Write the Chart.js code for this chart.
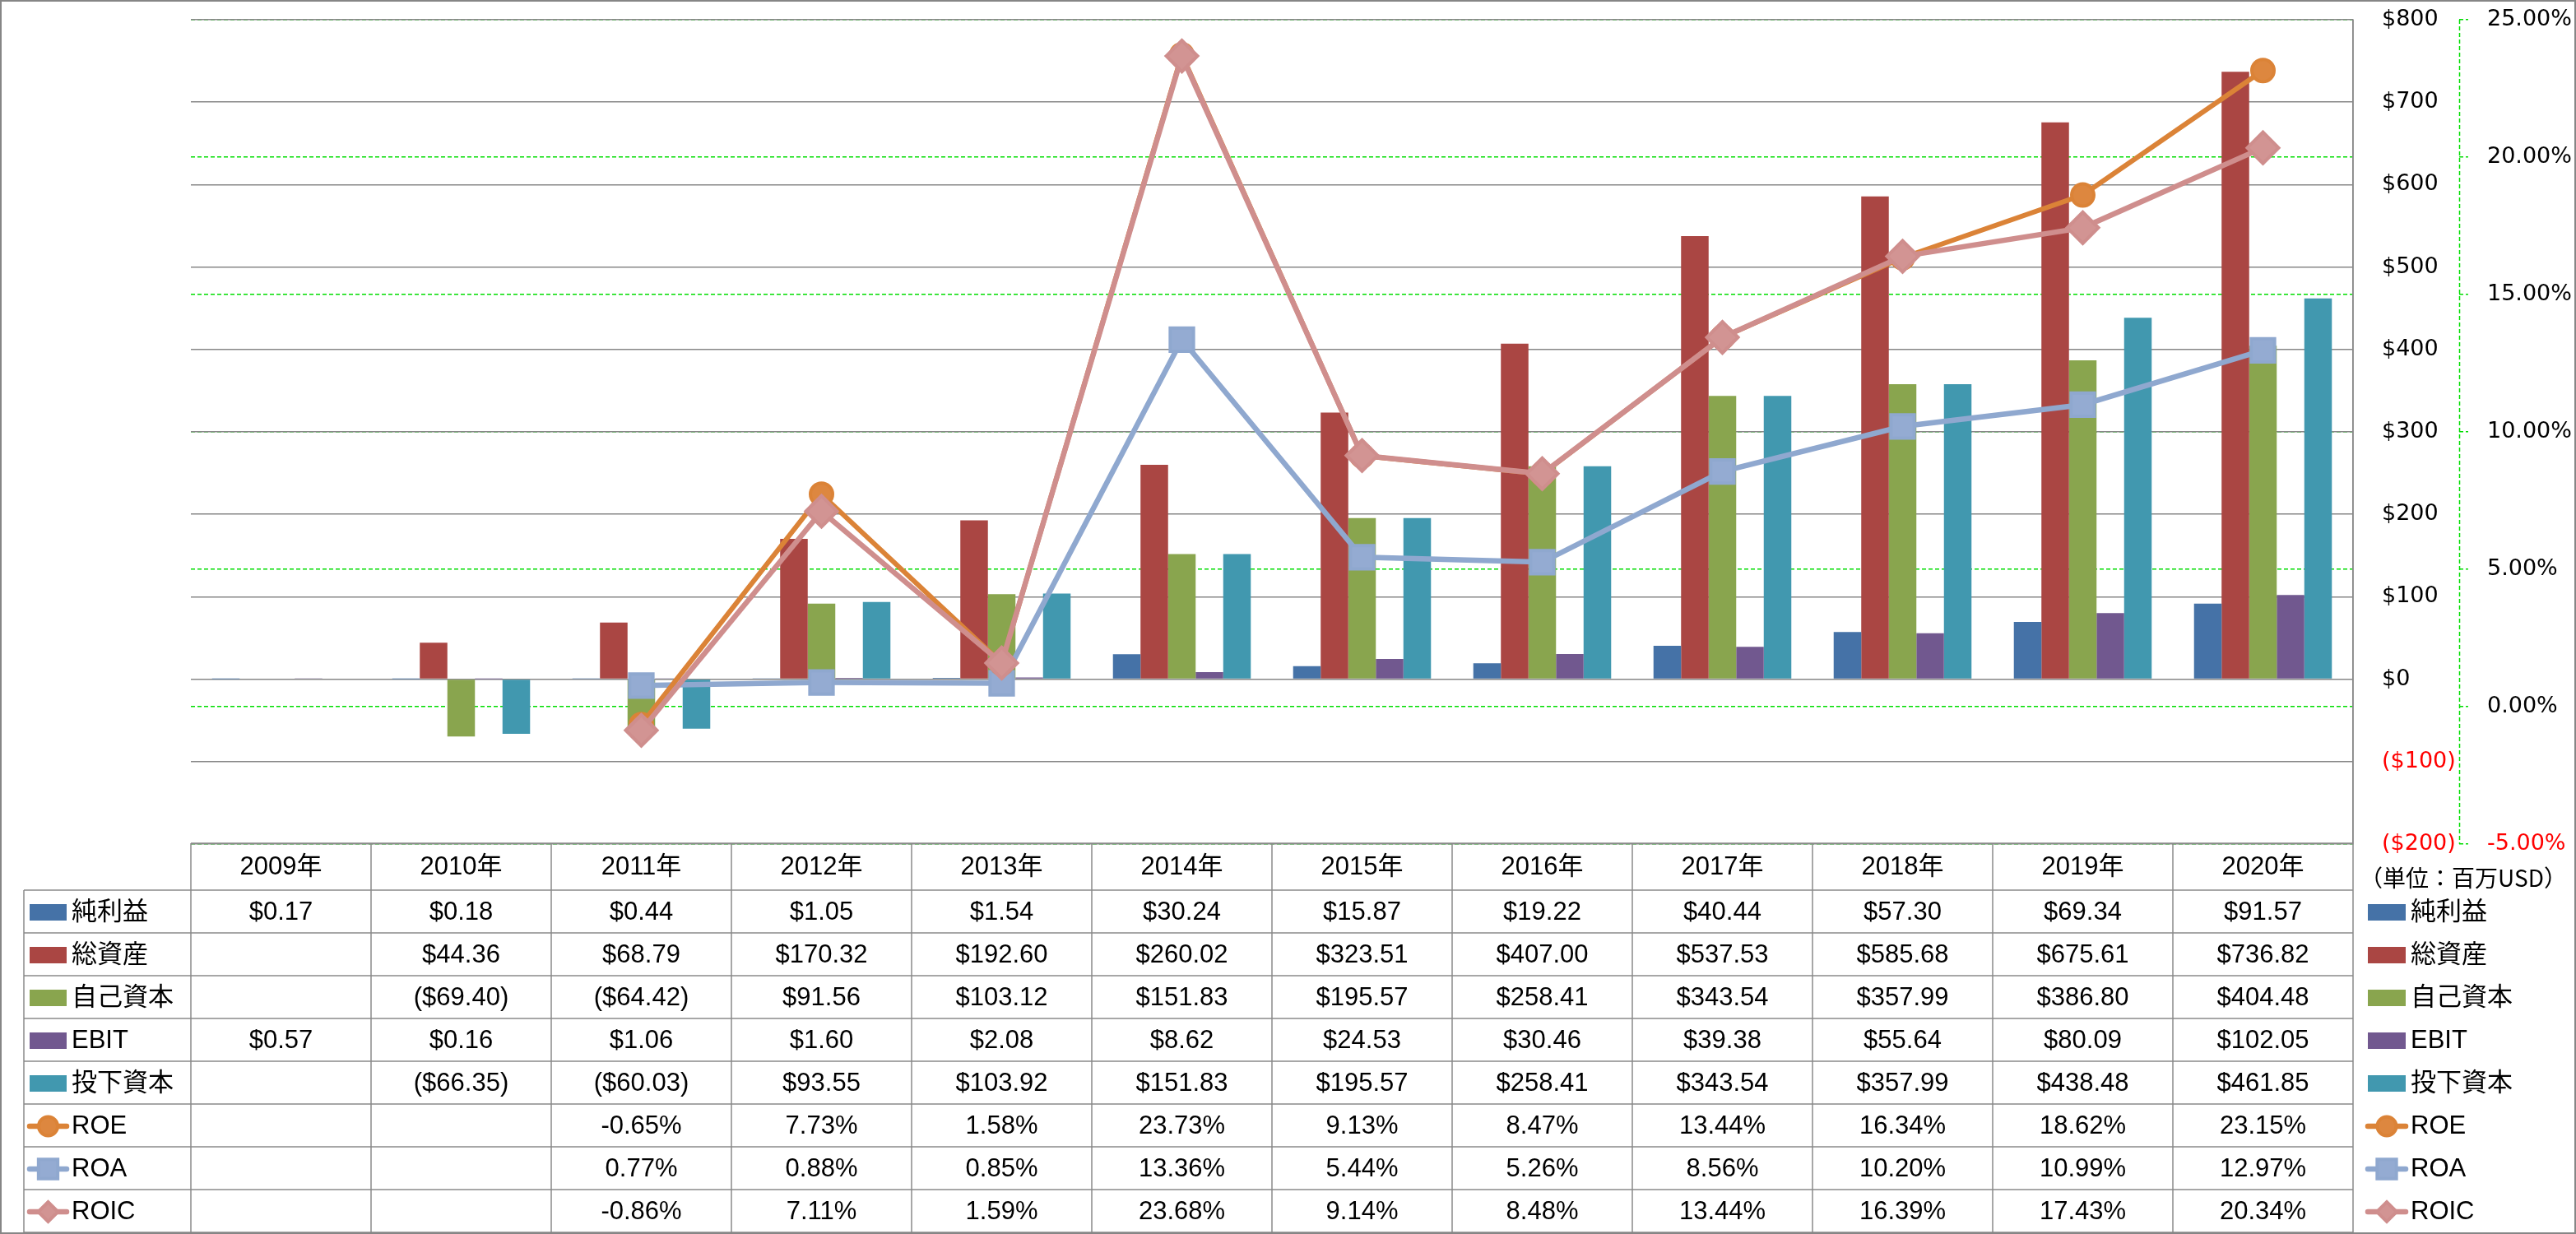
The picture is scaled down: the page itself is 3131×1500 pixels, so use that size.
<!DOCTYPE html>
<html lang="ja">
<head>
<meta charset="utf-8">
<title>純利益・総資産・自己資本・EBIT・投下資本とROE・ROA・ROIC</title>
<script src="https://cdn.jsdelivr.net/npm/chart.js@4/dist/chart.umd.min.js"></script>
<style>
  html, body { margin: 0; padding: 0; background: #fff; }
  #wrap { width: 3131px; height: 1500px; position: relative; }
</style>
</head>
<body>
<div id="wrap"><canvas id="finChart"></canvas></div>
<script>
// categories
const years = ['2009年', '2010年', '2011年', '2012年', '2013年', '2014年', '2015年', '2016年', '2017年', '2018年', '2019年', '2020年'];

// bar series (百万USD)
const netIncome   = [0.17, 0.18, 0.44, 1.05, 1.54, 30.24, 15.87, 19.22, 40.44, 57.30, 69.34, 91.57];
const totalAssets = [null, 44.36, 68.79, 170.32, 192.60, 260.02, 323.51, 407.00, 537.53, 585.68, 675.61, 736.82];
const equity      = [null, -69.40, -64.42, 91.56, 103.12, 151.83, 195.57, 258.41, 343.54, 357.99, 386.80, 404.48];
const ebit        = [0.57, 0.16, 1.06, 1.60, 2.08, 8.62, 24.53, 30.46, 39.38, 55.64, 80.09, 102.05];
const investedCap = [null, -66.35, -60.03, 93.55, 103.92, 151.83, 195.57, 258.41, 343.54, 357.99, 438.48, 461.85];

// line series (%)
const roe  = [null, null, -0.65, 7.73, 1.58, 23.73, 9.13, 8.47, 13.44, 16.34, 18.62, 23.15];
const roa  = [null, null, 0.77, 0.88, 0.85, 13.36, 5.44, 5.26, 8.56, 10.20, 10.99, 12.97];
const roic = [null, null, -0.86, 7.11, 1.59, 23.68, 9.14, 8.48, 13.44, 16.39, 17.43, 20.34];

// axis ranges / ticks
const usdAxis = { min: -200, max: 800, step: 100 };
const pctAxis = { min: -5, max: 25, step: 5 };
const unitLabel = '（単位：百万USD）';

const COLORS = {
  net: '#4572A7', assets: '#AA4643', equity: '#89A54E', ebit: '#71588F', invested: '#4198AF',
  roe: '#DB8337', roa: '#8FA8CF', roic: '#CF8E8D'
};

const AXIS_FONT = { family: '"DejaVu Sans", sans-serif', size: 27 };
const TABLE_FONT = '31px "Liberation Sans", "Noto Sans CJK JP", sans-serif';

function fmtUsd(v) {
  if (v === null || v === undefined) return '';
  return v < 0 ? '($' + (-v).toFixed(2) + ')' : '$' + v.toFixed(2);
}
function fmtPct(v) {
  if (v === null || v === undefined) return '';
  return v.toFixed(2) + '%';
}

function barSet(label, data, color) {
  return { type: 'bar', label: label, data: data, backgroundColor: color, borderWidth: 0, yAxisID: 'y', order: 10 };
}
function lineSet(label, data, color, fill, style, radius, width, order) {
  return {
    type: 'line', label: label, data: data, yAxisID: 'y1', order: order,
    borderColor: color, backgroundColor: fill, borderWidth: width, tension: 0, fill: false,
    pointStyle: style, pointRadius: radius, pointBorderWidth: 4,
    pointBorderColor: color, pointBackgroundColor: fill
  };
}

const datasets = [
  barSet('純利益', netIncome, COLORS.net),
  barSet('総資産', totalAssets, COLORS.assets),
  barSet('自己資本', equity, COLORS.equity),
  barSet('EBIT', ebit, COLORS.ebit),
  barSet('投下資本', investedCap, COLORS.invested),
  lineSet('ROE', roe, COLORS.roe, '#DD873F', 'circle', 13.5, 6, 2),
  lineSet('ROA', roa, COLORS.roa, '#94ABD2', 'rect', 20, 6.5, 3),
  lineSet('ROIC', roic, COLORS.roic, '#D29493', 'rectRot', 19, 6.5, 1)
];

// rows of the data table under the plot
const tableRows = [
  { label: '純利益', values: netIncome, fmt: fmtUsd, color: COLORS.net },
  { label: '総資産', values: totalAssets, fmt: fmtUsd, color: COLORS.assets },
  { label: '自己資本', values: equity, fmt: fmtUsd, color: COLORS.equity },
  { label: 'EBIT', values: ebit, fmt: fmtUsd, color: COLORS.ebit },
  { label: '投下資本', values: investedCap, fmt: fmtUsd, color: COLORS.invested },
  { label: 'ROE', values: roe, fmt: fmtPct, color: COLORS.roe, fill: '#DD873F', point: 'circle', r: 11.5 },
  { label: 'ROA', values: roa, fmt: fmtPct, color: COLORS.roa, fill: '#94ABD2', point: 'rect', r: 16.5 },
  { label: 'ROIC', values: roic, fmt: fmtPct, color: COLORS.roic, fill: '#D29493', point: 'rectRot', r: 12 }
];

const dataTable = {
  id: 'dataTable',
  afterDraw(chart) {
    const ctx = chart.ctx;
    const xs = chart.scales.x;
    const y1 = chart.scales.y1;
    const step = xs.getPixelForValue(1) - xs.getPixelForValue(0);
    const left = xs.getPixelForValue(0) - step / 2;
    const right = left + step * years.length;
    const top = Math.round(chart.chartArea.bottom) - 1;
    const headH = 57, rowH = 52;
    const legendLeft = 29;
    const bottom = top + headH + rowH * tableRows.length;

    ctx.save();

    // dashed green line of the percent axis
    ctx.strokeStyle = '#00dd00';
    ctx.lineWidth = 1.5;
    ctx.setLineDash([5, 3]);
    ctx.beginPath();
    ctx.moveTo(y1.left + 0.5, y1.top);
    ctx.lineTo(y1.left + 0.5, y1.bottom);
    ctx.stroke();
    ctx.setLineDash([]);

    // table grid
    ctx.strokeStyle = '#8a8a8a';
    ctx.lineWidth = 1.5;
    ctx.beginPath();
    ctx.moveTo(left, top);
    ctx.lineTo(right, top);
    for (let r = 0; r <= tableRows.length; r++) {
      const yy = top + headH + r * rowH;
      ctx.moveTo(legendLeft, yy);
      ctx.lineTo(right, yy);
    }
    for (let c = 0; c <= years.length; c++) {
      const xx = left + c * step;
      ctx.moveTo(xx, top);
      ctx.lineTo(xx, bottom);
    }
    ctx.moveTo(legendLeft, top + headH);
    ctx.lineTo(legendLeft, bottom);
    ctx.moveTo(right, chart.chartArea.top);
    ctx.lineTo(right, top);
    ctx.stroke();

    // header
    ctx.font = TABLE_FONT;
    ctx.fillStyle = '#000';
    ctx.textAlign = 'center';
    ctx.textBaseline = 'middle';
    years.forEach((yr, i) => {
      ctx.fillText(yr, xs.getPixelForValue(i), top + headH / 2 + 1);
    });

    // rows
    tableRows.forEach((row, r) => {
      const cy = top + headH + r * rowH + rowH / 2 + 1;
      ctx.font = TABLE_FONT;
      ctx.fillStyle = '#000';
      ctx.textAlign = 'center';
      row.values.forEach((v, i) => {
        const s = row.fmt(v);
        if (s) ctx.fillText(s, xs.getPixelForValue(i), cy);
      });
      // left and right legend keys
      [[33, 84, 87], [2875, 2927, 2930]].forEach(pos => {
        if (row.point) {
          ctx.strokeStyle = row.color;
          ctx.lineWidth = 6.5;
          ctx.lineCap = 'round';
          ctx.beginPath();
          ctx.moveTo(pos[0] + 3, cy);
          ctx.lineTo(pos[1] - 3, cy);
          ctx.stroke();
          ctx.lineCap = 'butt';
          ctx.fillStyle = row.fill;
          ctx.strokeStyle = row.color;
          ctx.lineWidth = 4;
          Chart.helpers.drawPoint(ctx, { pointStyle: row.point, radius: row.r, rotation: 0, borderWidth: 4 }, (pos[0] + pos[1]) / 2, cy);
        } else {
          ctx.fillStyle = row.color;
          ctx.fillRect(pos[0] + 3, cy - 10, pos[1] - pos[0] - 6, 20);
        }
        ctx.fillStyle = '#000';
        ctx.textAlign = 'left';
        ctx.font = TABLE_FONT;
        ctx.fillText(row.label, pos[2], cy);
      });
    });

    // unit note
    ctx.font = '28px "Noto Sans CJK JP", sans-serif';
    ctx.fillStyle = '#000';
    ctx.textAlign = 'center';
    ctx.fillText(unitLabel, 2994, top + 42);

    // outer chart border
    ctx.strokeStyle = '#868686';
    ctx.lineWidth = 2;
    ctx.strokeRect(1, 1, chart.width - 2, chart.height - 2);
    ctx.restore();
  }
};

new Chart(document.getElementById('finChart'), {
  type: 'bar',
  data: { labels: years, datasets: datasets },
  options: {
    responsive: true,
    maintainAspectRatio: false,
    animation: false,
    layout: { padding: { left: 232, top: 21, right: 0, bottom: 474 } },
    datasets: {
      bar: { categoryPercentage: 0.765, barPercentage: 1.0 }
    },
    plugins: {
      legend: { display: false },
      tooltip: { enabled: false }
    },
    scales: {
      x: { display: false, offset: true },
      y: {
        position: 'right',
        min: usdAxis.min,
        max: usdAxis.max,
        ticks: {
          stepSize: usdAxis.step,
          autoSkip: false,
          padding: 0,
          font: AXIS_FONT,
          color: c => (c.tick && c.tick.value < 0 ? '#ff0000' : '#000000'),
          callback: v => (v < 0 ? '($' + (-v) + ')' : '$' + v)
        },
        // invisible tick marks give the label offset without growing the top padding
        grid: { z: -1, color: '#878787', lineWidth: 1.5, drawTicks: true, tickLength: 35, tickColor: 'rgba(0,0,0,0)' },
        border: { display: true, color: '#878787', width: 1.5 },
        afterFit: s => { s.width = 129; }
      },
      y1: {
        position: 'right',
        min: pctAxis.min,
        max: pctAxis.max,
        ticks: {
          stepSize: pctAxis.step,
          autoSkip: false,
          padding: 0,
          font: AXIS_FONT,
          color: c => (c.tick && c.tick.value < 0 ? '#ff0000' : '#000000'),
          callback: v => v.toFixed(2) + '%'
        },
        grid: {
          z: -2,
          color: '#00dd00', lineWidth: 1.5, tickLength: 34,
          tickColor: '#00dd00', tickWidth: 1.5, tickBorderDash: [5, 3, 3, 200]
        },
        border: { display: false, dash: [5, 3] },
        afterFit: s => { s.width = 142; }
      }
    }
  },
  plugins: [dataTable]
});
</script>
</body>
</html>
